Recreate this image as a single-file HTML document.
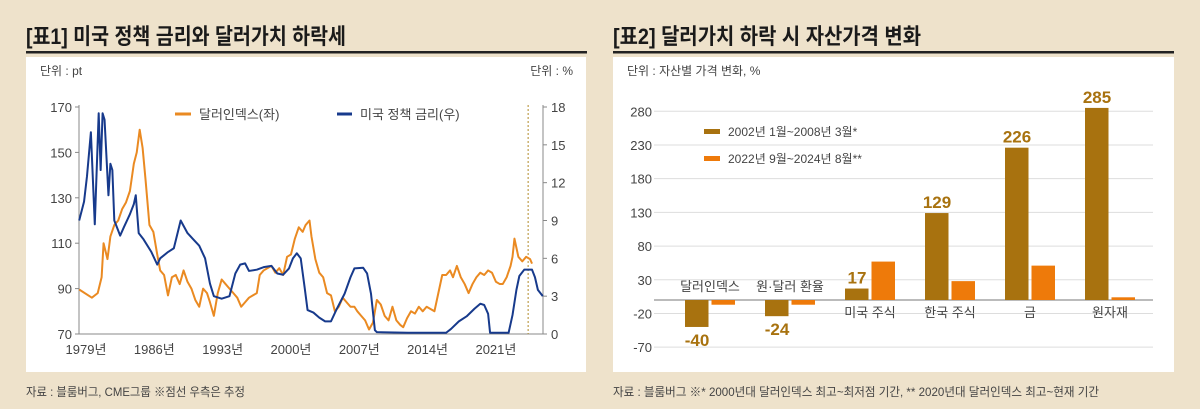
<!DOCTYPE html>
<html><head><meta charset="utf-8"><style>
body{margin:0;width:1200px;height:409px;background:#eee2cb;overflow:hidden;font-family:"Liberation Sans","Noto Sans CJK KR",sans-serif;}
#root{position:relative;width:1200px;height:409px;}
</style></head><body><div id="root">
<svg width="1200" height="409" style="position:absolute;left:0;top:0" font-family="Liberation Sans, Noto Sans CJK KR, sans-serif">
<text x="26" y="44" font-size="22" font-weight="bold" fill="#1a1a1a" textLength="320" lengthAdjust="spacingAndGlyphs">[표1] 미국 정책 금리와 달러가치 하락세</text>
<rect x="26" y="51" width="561" height="2.5" fill="#222"/>
<rect x="26" y="57" width="560" height="315" fill="#fff"/>
<text x="40" y="75" font-size="12" fill="#444">단위 : pt</text>
<text x="573" y="75" font-size="12" fill="#444" text-anchor="end">단위 : %</text>
<text x="26" y="396" font-size="12" fill="#444" textLength="219" lengthAdjust="spacingAndGlyphs">자료 : 블룸버그, CME그룹 ※점선 우측은 추정</text>
<g id="c1"></g>
<text x="613" y="44" font-size="22" font-weight="bold" fill="#1a1a1a" textLength="308" lengthAdjust="spacingAndGlyphs">[표2] 달러가치 하락 시 자산가격 변화</text>
<rect x="613" y="51" width="561" height="2.5" fill="#222"/>
<rect x="613" y="57" width="561" height="315" fill="#fff"/>
<text x="627" y="75" font-size="12" fill="#444">단위 : 자산별 가격 변화, %</text>
<text x="613" y="396" font-size="12" fill="#444" textLength="486" lengthAdjust="spacingAndGlyphs">자료 : 블룸버그 ※* 2000년대 달러인덱스 최고~최저점 기간, ** 2020년대 달러인덱스 최고~현재 기간</text>
<g id="c2"></g>
</svg>
<script>
const dxYears=[1978.3,1979.6,1980.2,1980.6,1980.8,1981.2,1981.5,1981.9,1982.3,1982.7,1983.1,1983.5,1983.9,1984.2,1984.5,1984.8,1985.1,1985.5,1985.9,1986.3,1986.6,1987.0,1987.4,1987.8,1988.2,1988.6,1989.0,1989.4,1989.8,1990.2,1990.6,1991.0,1991.4,1991.7,1992.1,1992.5,1992.9,1993.3,1993.7,1994.1,1994.5,1994.9,1995.3,1995.7,1996.1,1996.5,1996.8,1997.2,1997.6,1998.0,1998.4,1998.8,1999.2,1999.6,2000.0,2000.4,2000.8,2001.2,2001.5,2001.9,2002.1,2002.5,2002.9,2003.3,2003.7,2004.1,2004.5,2004.9,2005.3,2005.7,2006.1,2006.5,2006.8,2007.2,2007.6,2008.0,2008.4,2008.8,2009.2,2009.6,2010.0,2010.4,2010.8,2011.2,2011.5,2011.9,2012.3,2012.7,2013.1,2013.5,2013.9,2014.3,2014.7,2015.1,2015.5,2015.9,2016.3,2016.6,2017.0,2017.4,2017.8,2018.2,2018.6,2019.0,2019.4,2019.8,2020.2,2020.6,2021.0,2021.4,2021.7,2022.1,2022.5,2022.7,2022.9,2023.1,2023.3,2023.7,2024.1,2024.5,2024.7];
const dxValues=[89.6,86,88,95,110,103,113,118,120,125,128,133,145,150,160,152,138,118,115,105,98,96,87,95,96,92,98,93,90,85,82,90,88,84,78,88,94,92,90,88,86,82,84,86,87,88,96,98,99,100,97,99,96,104,105,112,117,115,118,120,113,103,97,95,88,87,80,82,86,84,82,82,80,78,76,72,75,85,83,78,76,82,76,74,73,77,80,79,82,80,82,81,80,88,96,96,98,95,100,95,92,88,92,95,97,96,98,97,93,92,92,95,100,104,112,108,104,102,104,103,101];
const rateYears=[1978.3,1978.8,1979.1,1979.5,1979.9,1980.3,1980.5,1980.7,1980.9,1981.3,1981.5,1981.7,1981.9,1982.5,1982.9,1983.5,1983.9,1984.1,1984.4,1984.9,1985.7,1986.3,1986.6,1987.4,1988.0,1988.7,1989.4,1990.0,1990.6,1991.2,1991.7,1992.1,1992.9,1993.7,1994.3,1994.8,1995.3,1995.7,1996.5,1997.2,1998.0,1998.6,1999.2,1999.8,2000.2,2000.6,2001.0,2001.4,2001.7,2002.3,2002.9,2003.5,2004.1,2004.7,2005.5,2006.1,2006.5,2007.4,2007.8,2008.2,2008.6,2008.8,2012.0,2015.9,2016.4,2017.2,2018.0,2018.8,2019.4,2019.8,2020.2,2020.4,2022.3,2022.7,2023.1,2023.4,2023.9,2024.7,2025.0,2025.3,2025.8];
const rateValues=[9,10.5,12.5,16,8.7,17.5,13,17.5,17,11,13.5,13,9,7.8,8.5,9.5,10.3,11,8,7.5,6.5,5.5,6,6.5,6.8,9,8,7.5,7,6,4,3,2.8,3,4.8,5.5,5.6,5.0,5.1,5.3,5.4,4.8,4.7,5.2,6,6.4,6.0,3.7,1.9,1.7,1.3,1.0,1.0,2.0,3.2,4.5,5.2,5.25,4.8,3.2,0.3,0.15,0.1,0.1,0.4,1.0,1.4,2.0,2.4,2.3,1.6,0.1,0.1,1.5,3.5,4.6,5.1,5.1,4.5,3.5,3.0];
const leftTicks=[70,90,110,130,150,170];
const rightTicks=[0,3,6,9,12,15,18];
const yearTicks=[1979,1986,1993,2000,2007,2014,2021];
const forecastYear=2024.3;

const cats=["달러인덱스","원·달러 환율","미국 주식","한국 주식","금","원자재"];
const s1=[-40,-24,17,129,226,285];
const s2=[-7,-7,57,28,51,4];
const s1Labels=["-40","-24","17","129","226","285"];
const yTicks2=[-70,-20,30,80,130,180,230,280];

const NS="http://www.w3.org/2000/svg";
function mk(p,tag,a,txt){const e=document.createElementNS(NS,tag);for(const k in a)e.setAttribute(k,a[k]);if(txt!=null)e.textContent=txt;p.appendChild(e);return e;}

const c1=document.getElementById('c1');
const xS=y=>86+(y-1979)*9.76;
const yL=v=>107+(170-v)*2.27;
const yR=v=>334-v*(227/18);
let e;
e=mk(c1,'line',{x1:79,y1:105,x2:79,y2:334,stroke:'#888','stroke-width':1});

e=mk(c1,'line',{x1:79,y1:334,x2:543,y2:334,stroke:'#888','stroke-width':1});

e=mk(c1,'line',{x1:543,y1:105,x2:543,y2:334,stroke:'#888','stroke-width':1});

leftTicks.forEach(v=>{
 mk(c1,'line',{x1:75,y1:yL(v),x2:79,y2:yL(v),stroke:'#888'});
 e=mk(c1,'text',{x:72,y:yL(v)+5,'font-size':13,'text-anchor':'end',fill:'#444'},String(v));
 
});
rightTicks.forEach(v=>{
 mk(c1,'line',{x1:543,y1:yR(v),x2:547,y2:yR(v),stroke:'#888'});
 e=mk(c1,'text',{x:551,y:yR(v)+5,'font-size':13,fill:'#444'},String(v));
 
});
yearTicks.forEach(y=>{
 e=mk(c1,'text',{x:xS(y),y:354,'font-size':13,'text-anchor':'middle',fill:'#444'},y+'년');
 
});
e=mk(c1,'line',{x1:xS(forecastYear),y1:105,x2:xS(forecastYear),y2:334,stroke:'#b08a2a','stroke-width':1,'stroke-dasharray':'2,2'});

e=mk(c1,'polyline',{points:dxYears.map((y,i)=>xS(y)+','+yL(dxValues[i])).join(' '),fill:'none',stroke:'#ea8a22','stroke-width':2,'stroke-linejoin':'round'});

e=mk(c1,'polyline',{points:rateYears.map((y,i)=>xS(y)+','+yR(rateValues[i])).join(' '),fill:'none',stroke:'#173a8c','stroke-width':2,'stroke-linejoin':'round'});

e=mk(c1,'line',{x1:175,y1:114,x2:191,y2:114,stroke:'#ea8a22','stroke-width':3});

e=mk(c1,'text',{x:199,y:119,'font-size':13,fill:'#444'},'달러인덱스(좌)');

e=mk(c1,'line',{x1:337,y1:114,x2:352,y2:114,stroke:'#173a8c','stroke-width':3});

e=mk(c1,'text',{x:360,y:119,'font-size':13,fill:'#444'},'미국 정책 금리(우)');


const c2=document.getElementById('c2');
const y2=v=>300-v*0.674;
const gx=i=>685+i*80;
yTicks2.forEach(v=>{
 e=mk(c2,'line',{x1:654,y1:y2(v),x2:1153,y2:y2(v),stroke:'#ddd','stroke-width':1});
 
 e=mk(c2,'text',{x:652,y:y2(v)+5,'font-size':13,'text-anchor':'end',fill:'#444'},String(v));
 
});
e=mk(c2,'line',{x1:654,y1:y2(0),x2:1153,y2:y2(0),stroke:'#777','stroke-width':1});

cats.forEach((c,i)=>{
 const x=gx(i);
 e=mk(c2,'rect',{x:x,y:Math.min(y2(s1[i]),y2(0)),width:23.5,height:Math.abs(y2(s1[i])-y2(0)),fill:'#a8720f'});
 
 e=mk(c2,'rect',{x:x+26.5,y:Math.min(y2(s2[i]),y2(0)),width:23.5,height:Math.abs(y2(s2[i])-y2(0)),fill:'#ee7a0a'});
 
 const neg=s1[i]<0;
 e=mk(c2,'text',{x:x+12,y:neg?y2(s1[i])+19:y2(s1[i])-5,'font-size':17,'font-weight':'bold','text-anchor':'middle',fill:'#a8720f'},s1Labels[i]);
 
 e=mk(c2,'text',{x:x+25,y:neg?y2(0)-9:y2(0)+17,'font-size':13,'text-anchor':'middle',fill:'#444'},c);
 
});
e=mk(c2,'rect',{x:704,y:129,width:16,height:5,fill:'#a8720f'});

e=mk(c2,'text',{x:728,y:136,'font-size':12,fill:'#444'},'2002년 1월~2008년 3월*');

e=mk(c2,'rect',{x:704,y:156,width:16,height:5,fill:'#ee7a0a'});

e=mk(c2,'text',{x:728,y:163,'font-size':12,fill:'#444'},'2022년 9월~2024년 8월**');

</script>
</div></body></html>
